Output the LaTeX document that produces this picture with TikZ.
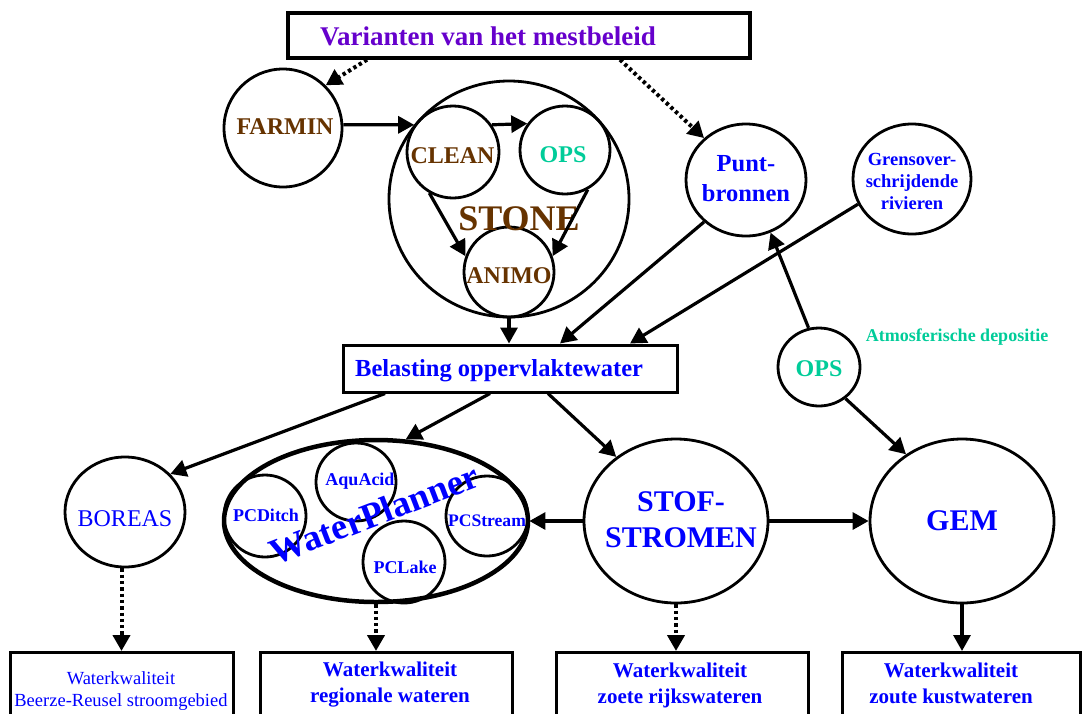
\documentclass[tikz,border=0pt]{standalone}
\usepackage{fontspec}
\setmainfont{Liberation Serif}
\usetikzlibrary{shapes.geometric,arrows.meta,calc}
\definecolor{mblue}{RGB}{0,0,255}
\definecolor{mbrown}{RGB}{102,51,0}
\definecolor{mgreen}{RGB}{0,204,153}
\definecolor{mpurple}{RGB}{102,0,204}
\newcommand\fsz[2]{\fontsize{#1}{#2}\selectfont}
\tikzset{
  circ/.style={ellipse, draw, line width=2.8pt, inner sep=0pt},
  box/.style={rectangle, draw, line width=3pt, inner sep=0pt},
  arr/.style={line width=3.2pt, -{Triangle[length=16pt,width=17pt]}},
  dotarr/.style={line width=4pt, dash pattern=on 3.3pt off 3pt, -{Triangle[length=16pt,width=17pt]}},
  txt/.style={inner sep=0pt, font=\bfseries},
  mtxt/.style={inner sep=0pt, align=center, font=\bfseries},
}
\begin{document}
\begin{tikzpicture}[x=1pt,y=-1pt]
\useasboundingbox (0,0) rectangle (1083,713);
\path[clip] (0,0) rectangle (1083,713);
\fill[white] (0,0) rectangle (1083,713);

% boxes
\node[box, line width=3.4pt, minimum width=462pt, minimum height=45pt] (top) at (519,35.5) {};
\node[box, minimum width=334pt, minimum height=47pt] (belast) at (510,368.5) {};
\node[box, anchor=north, minimum width=223pt, minimum height=90pt] (b1) at (121.5,651) {};
\node[box, anchor=north, minimum width=252pt, minimum height=90pt] (b2) at (386,651) {};
\node[box, anchor=north, minimum width=252pt, minimum height=90pt] (b3) at (682,651) {};
\node[box, anchor=north, minimum width=238pt, minimum height=90pt] (b4) at (961,651) {};

% circles
\node[circ, minimum size=118pt] (farmin) at (283,128) {};
\node[circ, minimum width=240pt, minimum height=236pt] (stone) at (509,199) {};
\node[circ, minimum size=92pt] (clean) at (453,152) {};
\node[circ, minimum width=90pt, minimum height=88pt] (opsi) at (565,150) {};
\node[circ, minimum size=90pt] (animo) at (509,272) {};
\node[circ, minimum width=120pt, minimum height=112pt] (punt) at (746,180) {};
\node[circ, minimum width=118pt, minimum height=110pt] (grens) at (912,179) {};
\node[circ, minimum width=82pt, minimum height=78pt] (opsr) at (819,367) {};
\node[circ, minimum width=120pt, minimum height=110pt] (boreas) at (125,512) {};
\node[circ, line width=4.5pt, minimum width=304pt, minimum height=162pt] (wp) at (376,521) {};
\node[circ, minimum width=80pt, minimum height=78pt] (aqu) at (356,482) {};
\node[circ, minimum size=82pt] (pcd) at (265,516) {};
\node[circ, minimum width=82pt, minimum height=80pt] (pcs) at (487,516) {};
\node[circ, minimum size=82pt] (pcl) at (404,562) {};
\node[circ, minimum width=184pt, minimum height=164pt] (stof) at (676,521) {};
\node[circ, minimum width=184pt, minimum height=164pt] (gem) at (962,521) {};

% texts
\node[txt, anchor=base west, text=mpurple, font=\bfseries\fsz{27}{32}] (ttop) at (320,45) {Varianten van het mestbeleid};
\node[txt, anchor=base west, text=mblue, font=\bfseries\fsz{24.5}{29}] (tbel) at (355,376.5) {Belasting oppervlaktewater};
\node[txt, anchor=base, text=mbrown, font=\bfseries\fsz{24}{29}] (tfarmin) at (285,134) {FARMIN};
\node[txt, anchor=base, text=mbrown, font=\bfseries\fsz{24}{29}] (tclean) at (452.5,163.3) {CLEAN};
\node[txt, anchor=base, text=mgreen, font=\bfseries\fsz{24}{29}] (topsi) at (563,162.7) {OPS};
\node[txt, anchor=base, text=mbrown, font=\bfseries\fsz{36}{43}] (tstone) at (519,230) {STONE};
\node[txt, anchor=base, text=mbrown, font=\bfseries\fsz{24}{29}] (tanimo) at (509,283.3) {ANIMO};
\node[mtxt, text=mblue, font=\bfseries\fsz{24.5}{30}] (tpunt) at (746,179) {Punt-\\bronnen};
\node[mtxt, text=mblue, font=\bfseries\fsz{18.5}{22}] (tgrens) at (912,181) {Grensover-\\schrijdende\\rivieren};
\node[txt, anchor=base, text=mgreen, font=\bfseries\fsz{24}{29}] (topsr) at (819,376.7) {OPS};
\node[txt, anchor=base, text=mgreen, font=\bfseries\fsz{18}{22}] (tatm) at (957,341.7) {Atmosferische depositie};
\node[txt, anchor=base, text=mblue, font=\fsz{24}{29}] (tboreas) at (125,526.7) {BOREAS};
\node[txt, anchor=base, text=mblue, font=\bfseries\fsz{18}{22}] (taqu) at (360,485) {AquAcid};
\node[txt, anchor=base, text=mblue, font=\bfseries\fsz{18}{22}] (tpcd) at (266,521.7) {PCDitch};
\node[txt, anchor=base, text=mblue, font=\bfseries\fsz{17.6}{22}] (tpcs) at (487,526.7) {PCStream};
\node[txt, anchor=base, text=mblue, font=\bfseries\fsz{18}{22}] (tpcl) at (405,573.3) {PCLake};
\node[txt, text=mblue, font=\bfseries\fsz{36.5}{44}, rotate=21] (twp) at (374,514) {WaterPlanner};
\node[mtxt, text=mblue, font=\bfseries\fsz{30}{36}] (tstof) at (681,520) {STOF-\\STROMEN};
\node[txt, anchor=base, text=mblue, font=\bfseries\fsz{30}{36}] (tgem) at (962,530) {GEM};
\node[mtxt, text=mblue, font=\fsz{18.5}{22}] (tb1) at (121,691) {Waterkwaliteit\\Beerze-Reusel stroomgebied};
\node[mtxt, text=mblue, font=\bfseries\fsz{21}{26}] (tb2) at (390,685) {Waterkwaliteit\\regionale wateren};
\node[mtxt, text=mblue, font=\bfseries\fsz{21}{26}] (tb3) at (680,685) {Waterkwaliteit\\zoete rijkswateren};
\node[mtxt, text=mblue, font=\bfseries\fsz{21}{26}] (tb4) at (951,683) {Waterkwaliteit\\zoute kustwateren};

% connectors
\draw[dotarr] ($(top.south)+(-152,0)$) -- (farmin.45);
\draw[dotarr] ($(top.south)+(101,0)$) -- (punt.135);
\draw[arr] (farmin.3) -- (clean.145);
\draw[arr] (clean.35) -- (opsi.145);
\draw[arr] (clean.-120) -- (animo.160);
\draw[arr] (opsi.-60) -- (animo.20);
\draw[arr] (stone.south) -- (stone.south |- belast.north);
\draw[arr] (punt.-135) -- ($(belast.north)+(50,0)$);
\draw[arr] (grens.-155) -- ($(belast.north)+(120,0)$);
\draw[arr] (opsr.105) -- (punt.-65);
\draw[arr] (opsr.-50) -- (gem.130);
\draw[arr] ($(belast.south)+(-125,0)$) -- (boreas.40);
\draw[arr] ($(belast.south)+(-20,0)$) -- (wp.70);
\draw[arr] ($(belast.south)+(38,0)$) -- (stof.133);
\draw[arr] (stof.west) -- (stof.west -| pcs.east);
\draw[arr] (stof.east) -- (gem.west);
\draw[dotarr] (b1.north |- boreas.south) -- (b1.north);
\draw[dotarr] (wp.south) -- (wp.south |- b2.north);
\draw[dotarr] (stof.south) -- (stof.south |- b3.north);
\draw[arr] (gem.south) -- (gem.south |- b4.north);
\end{tikzpicture}
\end{document}
